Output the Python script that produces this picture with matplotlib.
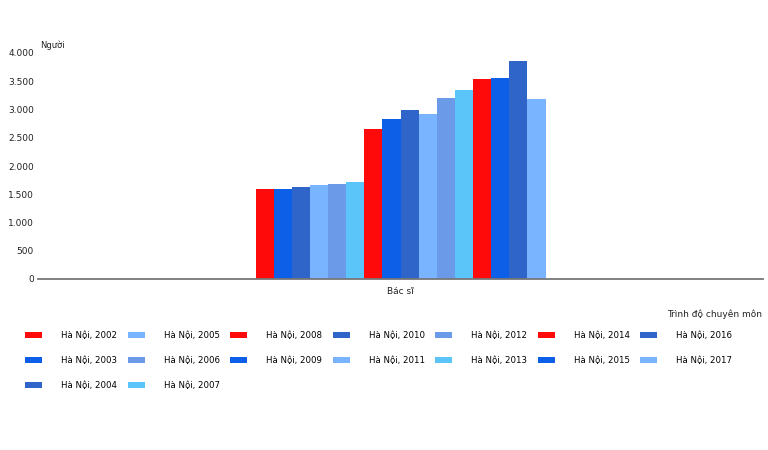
import numpy as np
import matplotlib
matplotlib.use("Agg")
import matplotlib.pyplot as plt
from matplotlib.ticker import FuncFormatter

# -------------------------
# Data
# -------------------------
category = ["Bác sĩ"]
years = list(range(2002, 2018))
values = [1600, 1585, 1620, 1660, 1690, 1710, 2660, 2835, 3000,
          2925, 3200, 3350, 3535, 3555, 3865, 3190]
palette = ["#ff0a0a", "#0d5fe8", "#2f64c8", "#78b4ff", "#6a9ae8", "#5bc4f8"]
labels = [f"Hà Nội, {y}" for y in years]

plt.rcParams["font.family"] = ["DejaVu Sans"]

fig = plt.figure(figsize=(7.68, 4.5), dpi=100)
ax = fig.add_axes([38 / 768, 1 - 279 / 450, 725 / 768, (279 - 53) / 450])

n = len(values)
width = 0.05
for i, (v, lab) in enumerate(zip(values, labels)):
    ax.bar(0 + (i - (n - 1) / 2) * width, v, width=width,
           color=palette[i % len(palette)], label=lab, zorder=2)

ax.set_xlim(-1, 1)
ax.set_ylim(0, 4000)
ax.set_yticks(np.arange(0, 4001, 500))
ax.yaxis.set_major_formatter(FuncFormatter(lambda v, p: f"{int(v):,}".replace(",", ".")))
ax.set_xticks([0])
ax.set_xticklabels(category)
ax.tick_params(axis="y", length=0, pad=3, labelsize=6.5, labelcolor="#222222")
ax.tick_params(axis="x", length=0, pad=6, labelsize=6.5, labelcolor="#222222")

for s in ["top", "right", "left"]:
    ax.spines[s].set_visible(False)
ax.spines["bottom"].set_color("#777777")
ax.spines["bottom"].set_linewidth(1.3)

fig.text(40 / 768, 1 - 45 / 450, "Người", fontsize=6, color="#222222", va="center")
fig.text(762 / 768, 1 - 314 / 450, "Trình độ chuyên môn", fontsize=6.5,
         color="#222222", ha="right", va="center")

fig.legend(loc="upper left", bbox_to_anchor=(25 / 768, 1 - 331 / 450),
           ncol=7, frameon=False, fontsize=6.2, handlelength=2.0,
           handleheight=0.8, handletextpad=2.2, columnspacing=1.2,
           labelspacing=1.85, borderaxespad=0, borderpad=0)

fig.savefig("out.png", dpi=100)
